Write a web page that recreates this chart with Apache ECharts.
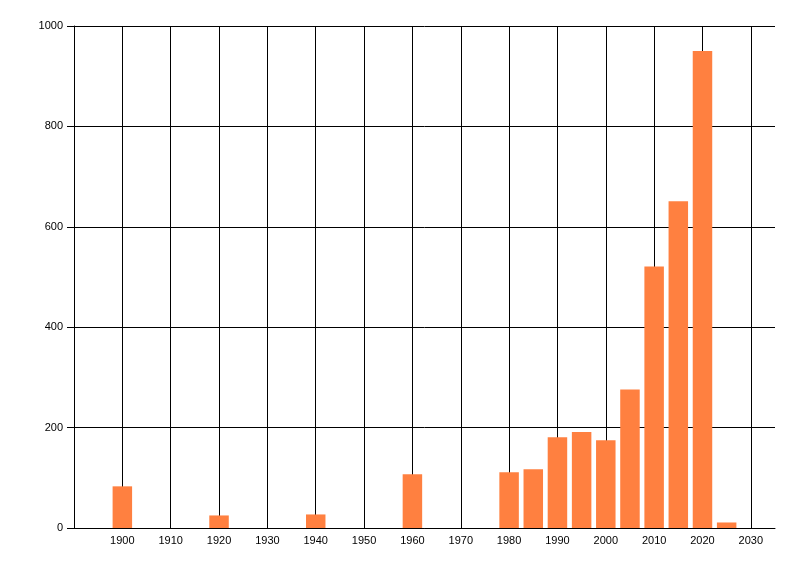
<!DOCTYPE html>
<html>
<head>
<meta charset="utf-8">
<script src="https://cdn.jsdelivr.net/npm/echarts@6/dist/echarts.min.js"></script>
<style>
    html, body { margin: 0; padding: 0; background: #fff; }
    #chart { width: 800px; height: 576px; }
</style>
</head>
<body>
<div id="chart"></div>
<script>
// values
var years = [1900, 1920, 1940, 1960, 1980, 1985, 1990, 1995, 2000, 2005, 2010, 2015, 2020, 2025];
var counts = [83, 25, 27, 107, 111, 117, 181, 191, 175, 276, 521, 651, 950, 11];
var yTicks = [0, 200, 400, 600, 800, 1000];

var chart = echarts.init(document.getElementById('chart'));

var points = years.map(function (y, i) { return [y, counts[i]]; });

// one colour per vertical grid line: 1890 (under the axis) .. 2030, then the 2035 edge hidden
var vLineColors = [];
for (var k = 1890; k <= 2030; k += 10) vLineColors.push('#000');
vLineColors.push('rgba(0,0,0,0)');

var option = {
    animation: false,
    grid: {
        left: 74,
        right: 25,
        top: 26,
        bottom: 48
    },
    xAxis: {
        type: 'value',
        min: 1890,
        max: 2035,
        interval: 10,
        axisLine: { show: true, lineStyle: { color: '#000', width: 1 } },
        axisTick: { show: false },
        axisLabel: {
            color: '#000',
            fontFamily: 'Liberation Sans',
            fontSize: 11,
            margin: 7,
            showMinLabel: false,
            showMaxLabel: false,
            formatter: function (v) { return (v >= 1900 && v <= 2030) ? String(v) : ''; }
        },
        splitLine: { show: true, lineStyle: { color: vLineColors, width: 1 } }
    },
    yAxis: {
        type: 'value',
        min: yTicks[0],
        max: yTicks[yTicks.length - 1],
        interval: yTicks[1] - yTicks[0],
        axisLine: { show: true, lineStyle: { color: '#000', width: 1 } },
        axisTick: { show: true, length: 7, lineStyle: { color: '#000' } },
        axisLabel: {
            color: '#000',
            fontFamily: 'Liberation Sans',
            fontSize: 11,
            margin: 11,
            formatter: function (v) { return String(v); }
        },
        splitLine: { show: true, lineStyle: { color: '#000', width: 1 } }
    },
    series: [
        {
            type: 'bar',
            barWidth: 19.5,
            itemStyle: { color: '#FF8040' },
            data: points
        }
    ]
};
chart.setOption(option, true);
</script>
</body>
</html>
